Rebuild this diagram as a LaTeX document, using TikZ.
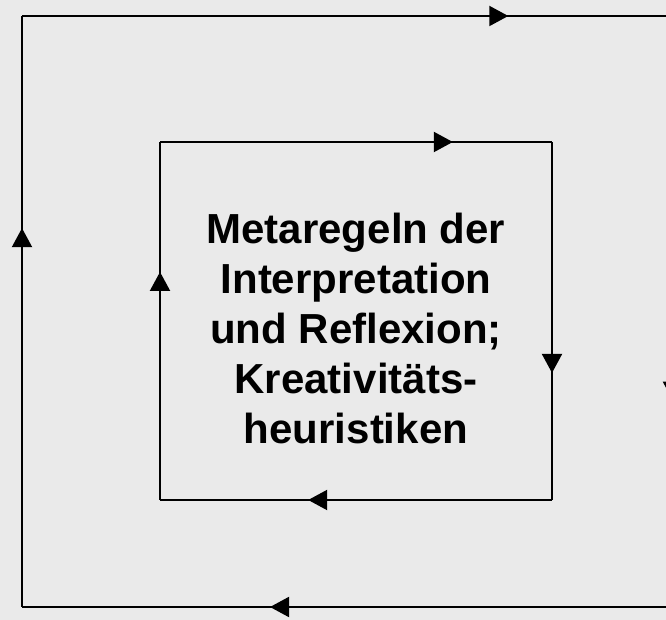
\documentclass[tikz,border=0pt]{standalone}
\usepackage{fontspec}
\setmainfont{Liberation Sans}
\usetikzlibrary{arrows.meta,decorations.markings}
\definecolor{bgcol}{RGB}{234,234,234}
\tikzset{
  loopline/.style={line width=2pt, black},
  midtip/.style={postaction={decorate, decoration={markings,
      mark=at position #1 with {\arrow{Triangle[length=19pt,width=20pt]}}}}},
  labeltext/.style={font=\bfseries\fontsize{42}{50}\selectfont, align=center, inner sep=0pt}
}
\begin{document}
\begin{tikzpicture}[x=1pt,y=1pt]
  \useasboundingbox (0,0) rectangle (666,620);
  \fill[bgcol] (0,0) rectangle (666,620);
  \clip (0,0) rectangle (666,620);
  % outer cycle corners
  \coordinate (otl) at (22,604);
  \coordinate (otr) at (673,604);
  \coordinate (obr) at (673,13);
  \coordinate (obl) at (22,13);
  % inner cycle corners
  \coordinate (itl) at (160,478);
  \coordinate (itr) at (552,478);
  \coordinate (ibr) at (552,120);
  \coordinate (ibl) at (160,120);
  % outer cycle, clockwise
  \draw[loopline, midtip=0.747] (otl) -- (otr);
  \draw[loopline, midtip=0.651] (otr) -- (obr);
  \draw[loopline, midtip=0.619] (obr) -- (obl);
  \draw[loopline, midtip=0.641] (obl) -- (otl);
  % inner cycle, clockwise
  \draw[loopline, midtip=0.747] (itl) -- (itr);
  \draw[loopline, midtip=0.645] (itr) -- (ibr);
  \draw[loopline, midtip=0.622] (ibr) -- (ibl);
  \draw[loopline, midtip=0.637] (ibl) -- (itl);
  % central label
  \node[labeltext] (core) at (356,292)
    {Metaregeln der\\Interpretation\\und Reflexion;\\Kreativitäts-\\heuristiken};
\end{tikzpicture}
\end{document}
